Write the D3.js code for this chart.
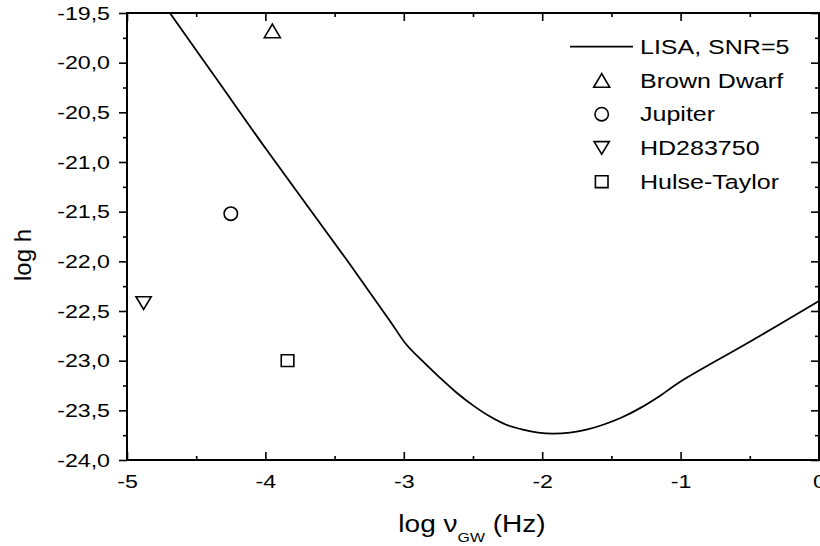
<!DOCTYPE html>
<html>
<head>
<meta charset="utf-8">
<script src="https://cdn.jsdelivr.net/npm/d3@7"></script>
<style>
  html, body { margin: 0; padding: 0; background: #fff; }
  svg { display: block; }
  text { font-family: "Liberation Sans", Arial, Helvetica, sans-serif; fill: #000; }
</style>
</head>
<body>
<svg id="chart" width="820" height="546"></svg>
<script>
// ---- Data ----
const lisaX = [-4.69, -4.35, -3.99, -3.41, -3.10, -2.98, -2.86, -2.74, -2.62, -2.50, -2.38, -2.26, -2.14, -2.03, -1.92, -1.80, -1.68, -1.56, -1.43, -1.29, -1.15, -1.00, -0.50, 0.00];
const lisaY = [-19.50, -20.17, -20.88, -21.99, -22.60, -22.84, -23.01, -23.17, -23.32, -23.45, -23.56, -23.645, -23.695, -23.725, -23.735, -23.725, -23.695, -23.645, -23.575, -23.475, -23.355, -23.21, -22.81, -22.40];

const sourceNames = ["Brown Dwarf", "Jupiter", "HD283750", "Hulse-Taylor"];
const sourceSymbols = ["triangleUp", "circle", "triangleDown", "square"];
const sourceX = [-3.95, -4.25, -4.88, -3.84];
const sourceY = [-19.68, -21.52, -22.42, -23.00];

const lisaLabel = "LISA, SNR=5";
const xMajorTicks = [-5, -4, -3, -2, -1, 0];
const xMinorTicks = [-4.5, -3.5, -2.5, -1.5, -0.5];
const yMajorTicks = [-24.0, -23.5, -23.0, -22.5, -22.0, -21.5, -21.0, -20.5, -20.0, -19.5];
const yMinorTicks = [-23.75, -23.25, -22.75, -22.25, -21.75, -21.25, -20.75, -20.25, -19.75];

// ---- Layout ----
const svg = d3.select("#chart");
const L = 127, R = 819, T = 13, B = 460;
const SX = 1.22; // horizontal text stretch

const x = d3.scaleLinear().domain([-5, 0]).range([L, R]);
const y = d3.scaleLinear().domain([-24, -19.5]).range([B, T]);

function stretch(sel, factor) {
  sel.each(function () {
    const w = this.getComputedTextLength();
    d3.select(this).attr("textLength", w * factor).attr("lengthAdjust", "spacingAndGlyphs");
  });
}

svg.append("rect").attr("width", 820).attr("height", 546).attr("fill", "#fff");

const fmtY = v => v.toFixed(1).replace(".", ",");
const fmtX = v => (Math.abs(v) < 1e-9 ? "0" : String(v));

// Minor ticks
svg.append("g").attr("transform", `translate(${L},0)`)
  .call(d3.axisLeft(y).tickValues(yMinorTicks).tickSize(4).tickFormat(""));
svg.append("g").attr("transform", `translate(${R},0)`)
  .call(d3.axisRight(y).tickValues(yMinorTicks).tickSize(-4).tickFormat(""));
svg.append("g").attr("transform", `translate(0,${B})`)
  .call(d3.axisBottom(x).tickValues(xMinorTicks).tickSize(-4).tickFormat(""));
svg.append("g").attr("transform", `translate(0,${T})`)
  .call(d3.axisTop(x).tickValues(xMinorTicks).tickSize(-4).tickFormat(""));

// Major ticks with labels
svg.append("g").attr("class", "ylab").attr("transform", `translate(${L},0)`)
  .call(d3.axisLeft(y).tickValues(yMajorTicks).tickSizeInner(8).tickSizeOuter(0).tickPadding(9).tickFormat(fmtY));
svg.append("g").attr("class", "xlab").attr("transform", `translate(0,${B})`)
  .call(d3.axisBottom(x).tickValues(xMajorTicks).tickSizeInner(-8).tickSizeOuter(0).tickPadding(15).tickFormat(fmtX));
svg.append("g").attr("transform", `translate(${R},0)`)
  .call(d3.axisRight(y).tickValues(yMajorTicks).tickSizeInner(-8).tickSizeOuter(0).tickFormat(""));
svg.append("g").attr("transform", `translate(0,${T})`)
  .call(d3.axisTop(x).tickValues(xMajorTicks).tickSizeInner(-8).tickSizeOuter(0).tickFormat(""));

svg.selectAll(".domain").remove();
svg.selectAll(".tick line").attr("stroke", "#000").attr("stroke-width", 1.6);
svg.selectAll(".ylab text, .xlab text").attr("font-size", 19).attr("font-family", "Liberation Sans, Arial, sans-serif").attr("fill", "#000");
stretch(svg.selectAll(".ylab text, .xlab text"), SX);

// Frame
svg.append("rect").attr("x", L).attr("y", T).attr("width", R - L).attr("height", B - T)
  .attr("fill", "none").attr("stroke", "#000").attr("stroke-width", 2);

// Clip
svg.append("clipPath").attr("id", "plotclip")
  .append("rect").attr("x", L).attr("y", T).attr("width", R - L).attr("height", B - T);

// LISA curve
const lisa = lisaX.map((d, i) => [d, lisaY[i]]);
const line = d3.line().x(d => x(d[0])).y(d => y(d[1])).curve(d3.curveCatmullRom.alpha(0.5));
svg.append("path").attr("clip-path", "url(#plotclip)")
  .attr("d", line(lisa)).attr("fill", "none").attr("stroke", "#000").attr("stroke-width", 1.8);

// Symbols
function pathFor(kind) {
  if (kind === "triangleUp") return "M-8,6.8L8,6.8L0,-6.8Z";
  if (kind === "triangleDown") return "M-7.6,-6.3L7.6,-6.3L0,6.3Z";
  if (kind === "square") return "M-6.3,-5.9H6.3V5.9H-6.3Z";
  return "M6.7,0A6.7,6.7 0 1 1 -6.7,0A6.7,6.7 0 1 1 6.7,0Z";
}

sourceNames.forEach((n, i) => {
  svg.append("path")
    .attr("transform", `translate(${x(sourceX[i])},${y(sourceY[i])})`)
    .attr("d", pathFor(sourceSymbols[i]))
    .attr("fill", "none").attr("stroke", "#000").attr("stroke-width", 1.6);
});

// Legend
const legX = 570, legY0 = 46.7, legDY = 33.75;
const leg = svg.append("g");
leg.append("line").attr("x1", legX).attr("x2", legX + 63).attr("y1", legY0).attr("y2", legY0)
  .attr("stroke", "#000").attr("stroke-width", 1.8);
const legTexts = [];
legTexts.push(leg.append("text").attr("x", 640).attr("y", legY0).attr("dy", "0.35em").attr("font-size", 20.5).text(lisaLabel));
sourceNames.forEach((n, i) => {
  const yy = legY0 + legDY * (i + 1);
  leg.append("path").attr("transform", `translate(${601.7},${yy})`)
    .attr("d", pathFor(sourceSymbols[i]))
    .attr("fill", "none").attr("stroke", "#000").attr("stroke-width", 1.6);
  legTexts.push(leg.append("text").attr("x", 640).attr("y", yy).attr("dy", "0.35em").attr("font-size", 20.5).text(n));
});
legTexts.forEach(t => stretch(t, SX));

// Axis titles
const xt = svg.append("text").attr("x", 472).attr("y", 532).attr("text-anchor", "middle").attr("font-size", 23);
xt.append("tspan").text("log \u03BD");
xt.append("tspan").attr("font-size", 13).attr("dy", 10).text("GW");
xt.append("tspan").attr("dy", -10).text(" (Hz)");
stretch(xt, SX);

svg.append("text").attr("transform", "translate(31,255) rotate(-90)")
  .attr("text-anchor", "middle").attr("font-size", 24).text("log h");
</script>
</body>
</html>
